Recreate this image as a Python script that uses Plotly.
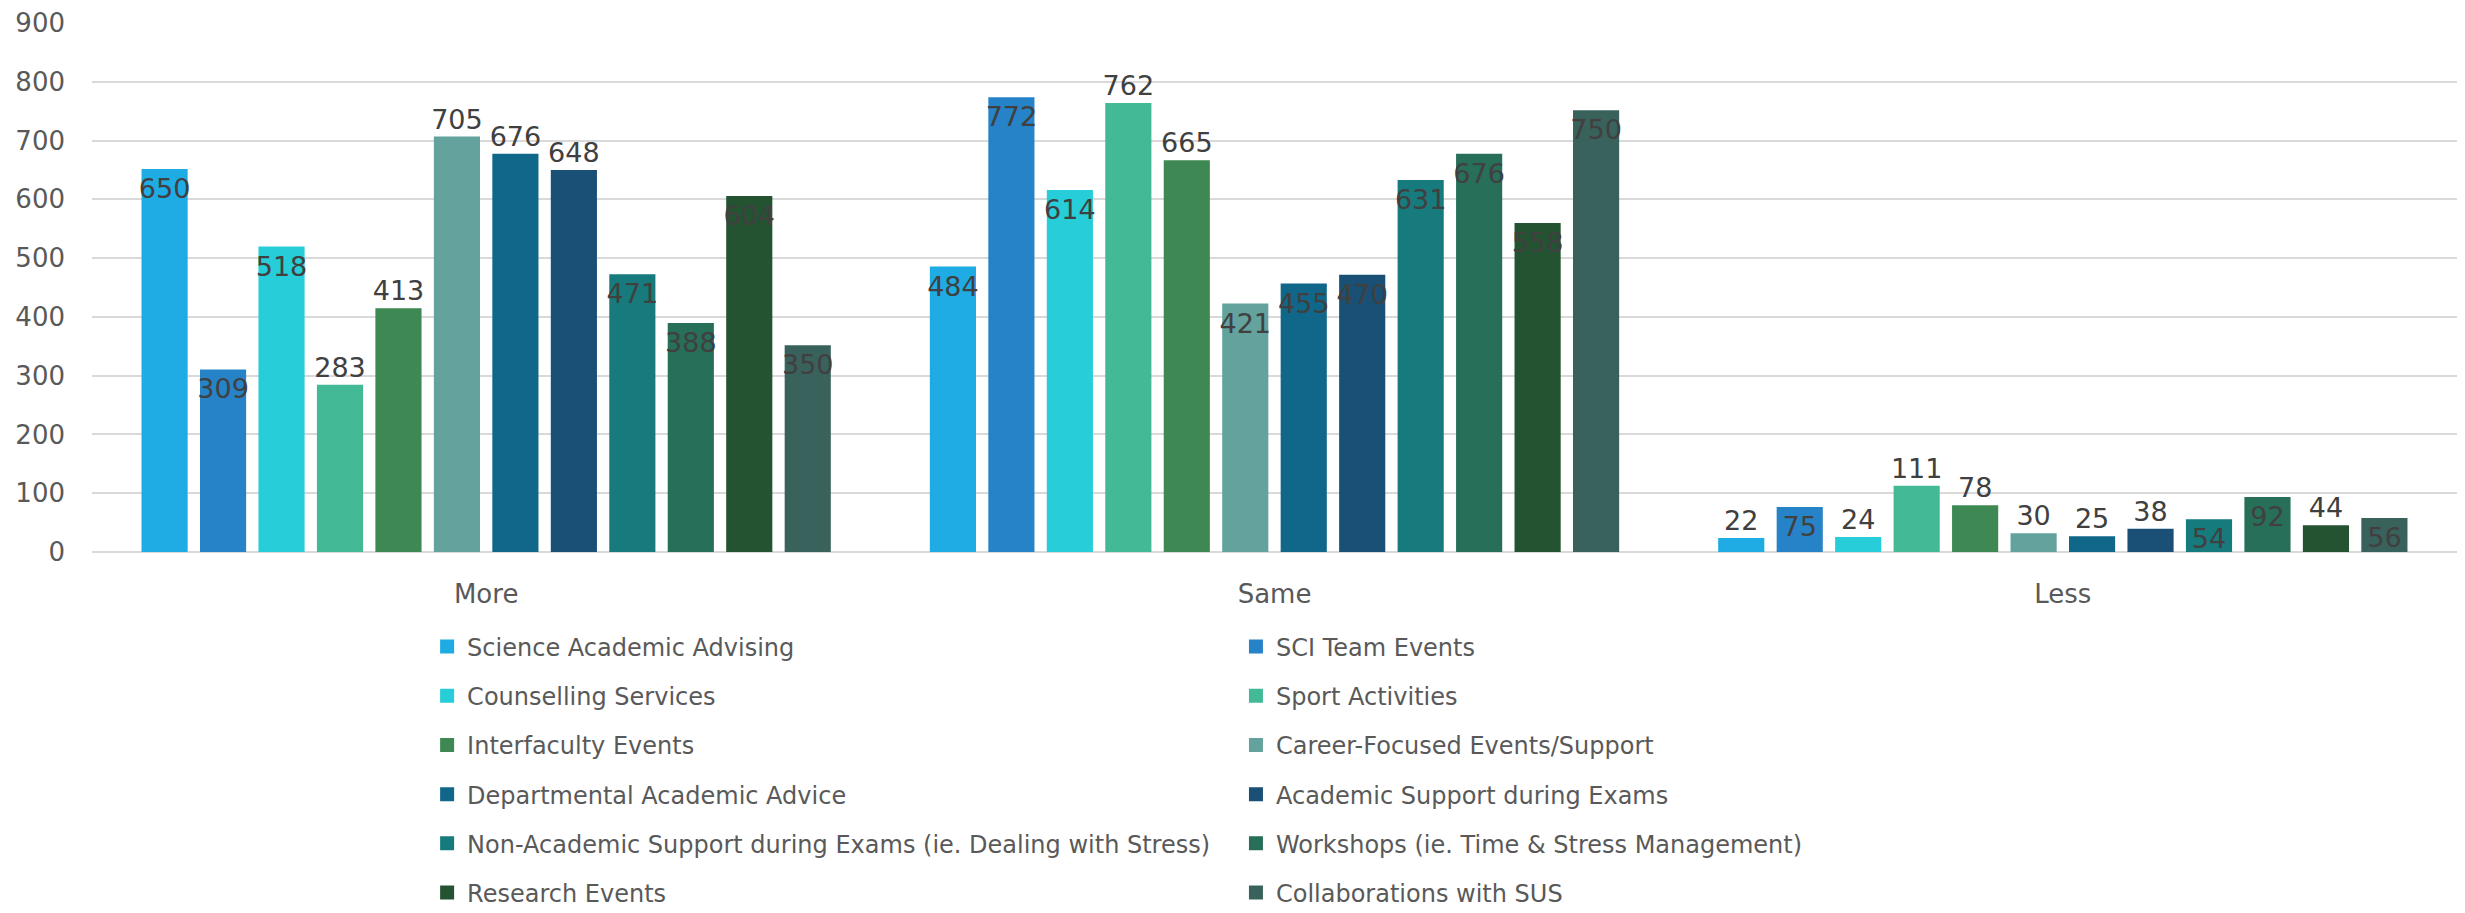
import plotly.graph_objects as go

categories = ["More", "Same", "Less"]

series_names = [
    "Science Academic Advising",
    "SCI Team Events",
    "Counselling Services",
    "Sport Activities",
    "Interfaculty Events",
    "Career-Focused Events/Support",
    "Departmental Academic Advice",
    "Academic Support during Exams",
    "Non-Academic Support during Exams (ie. Dealing with Stress)",
    "Workshops (ie. Time & Stress Management)",
    "Research Events",
    "Collaborations with SUS",
]

science_academic_advising = [650, 484, 22]
sci_team_events = [309, 772, 75]
counselling_services = [518, 614, 24]
sport_activities = [283, 762, 111]
interfaculty_events = [413, 665, 78]
career_focused = [705, 421, 30]
departmental_advice = [676, 455, 25]
academic_support_exams = [648, 470, 38]
non_academic_support = [471, 631, 54]
workshops = [388, 676, 92]
research_events = [604, 558, 44]
collaborations_sus = [350, 750, 56]

series_values = [
    science_academic_advising, sci_team_events, counselling_services,
    sport_activities, interfaculty_events, career_focused,
    departmental_advice, academic_support_exams, non_academic_support,
    workshops, research_events, collaborations_sus,
]

y_ticks = [0, 100, 200, 300, 400, 500, 600, 700, 800, 900]

# styling
colors = ["#1FABE3", "#2783C8", "#27CDD8", "#43B996", "#3E8853", "#63A29D",
          "#106789", "#1A4F76", "#177B7E", "#276F59", "#245332", "#3A625C"]
label_pos = [
    ["inside", "inside", "outside"],
    ["inside", "inside", "inside"],
    ["inside", "inside", "outside"],
    ["outside", "outside", "outside"],
    ["outside", "outside", "outside"],
    ["outside", "inside", "outside"],
    ["outside", "inside", "outside"],
    ["outside", "inside", "outside"],
    ["inside", "inside", "inside"],
    ["inside", "inside", "inside"],
    ["inside", "inside", "outside"],
    ["inside", "inside", "inside"],
]

FONT = "DejaVu Sans, sans-serif"

fig = go.Figure()
for i, (name, vals) in enumerate(zip(series_names, series_values)):
    fig.add_trace(go.Bar(
        name=name,
        x=categories,
        y=vals,
        text=[str(v) for v in vals],
        textposition=label_pos[i],
        insidetextanchor="end",
        textangle=0,
        constraintext="none",
        cliponaxis=False,
        textfont=dict(family=FONT, size=27, color="#404040"),
        marker=dict(color=colors[i], line=dict(color=colors[i], width=2)),
        legend="legend" if i % 2 == 0 else "legend2",
        legendgroup=name,
    ))

legend_common = dict(
    orientation="v",
    yanchor="top",
    y=-0.137,
    xanchor="left",
    font=dict(family=FONT, size=24, color="#595959"),
    tracegroupgap=15,
    bgcolor="rgba(0,0,0,0)",
    itemclick=False,
    itemdoubleclick=False,
)

# page body has an 8px default margin, so the figure is sized to fit the window
fig.update_layout(
    width=2457,
    height=905,
    margin=dict(l=84, r=8, t=15, b=361, autoexpand=False),
    plot_bgcolor="white",
    paper_bgcolor="white",
    barmode="group",
    bargap=0.11,
    bargroupgap=0.245,
    font=dict(family=FONT, color="#595959"),
    showlegend=True,
    legend=dict(x=0.1417, **legend_common),
    legend2=dict(x=0.4837, **legend_common),
    xaxis=dict(
        showgrid=False,
        showline=False,
        zeroline=False,
        ticks="",
        tickfont=dict(family=FONT, size=26, color="#595959"),
        ticklabelstandoff=24,
    ),
    yaxis=dict(
        range=[0, 900],
        tickvals=y_ticks,
        showgrid=True,
        gridcolor="#D9D9D9",
        gridwidth=2,
        zeroline=True,
        zerolinecolor="#D9D9D9",
        zerolinewidth=2,
        showline=False,
        ticks="",
        tickfont=dict(family=FONT, size=26, color="#595959"),
        ticklabelstandoff=26,
    ),
)

fig.write_html("out.html")
